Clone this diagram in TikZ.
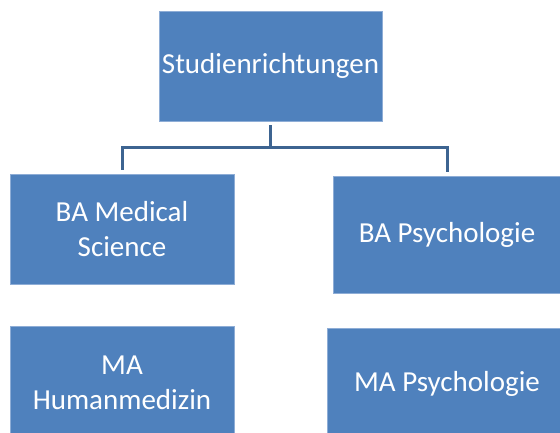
\documentclass[tikz,border=0pt]{standalone}
\usepackage{fontspec}
\setmainfont{Carlito}
\usetikzlibrary{positioning}
\definecolor{boxblue}{HTML}{4F81BD}
\definecolor{boxedge}{HTML}{8EADD6}
\definecolor{linkblue}{HTML}{3D6491}
\begin{document}
\begin{tikzpicture}[x=1pt,y=-1pt]
		\tikzset{
			box/.style={draw=boxedge, line width=0.6pt, fill=boxblue, text=white, align=center, inner sep=0pt, font=\fontsize{29}{35}\selectfont},
			link/.style={draw=linkblue, line width=3pt}
		}
		\useasboundingbox (0,0) rectangle (560,432);
		\clip (0,0) rectangle (560,432);
		
		% Top node
		\node[box, minimum width=223pt, minimum height=110pt] (studien) at (270.5,66) {Studienrichtungen};
		
		% Bachelor nodes
		\node[box, minimum width=224pt, minimum height=110pt] (bamed) at (122,229) {BA Medical\\Science};
		\node[box, minimum width=228pt, minimum height=117pt] (bapsy) at (447,234.5) {BA Psychologie};
		
		% Master nodes
		\node[box, minimum width=224pt, minimum height=114pt] (mahum) at (122,383) {MA\\Humanmedizin};
		\node[box, minimum width=240pt, minimum height=112pt] (mapsy) at (447,384) {MA Psychologie};
		
		% Branch point
		\coordinate (split) at (270.5,147.5);
		
		% Draw connectors
		\draw[link, shorten <=4pt] (studien.south) -- (split);
		\draw[link, shorten >=4pt] (split) -| (bamed.north);
		\draw[link, shorten >=4pt] (split) -| (bapsy.north);
		
	\end{tikzpicture}
\end{document}
